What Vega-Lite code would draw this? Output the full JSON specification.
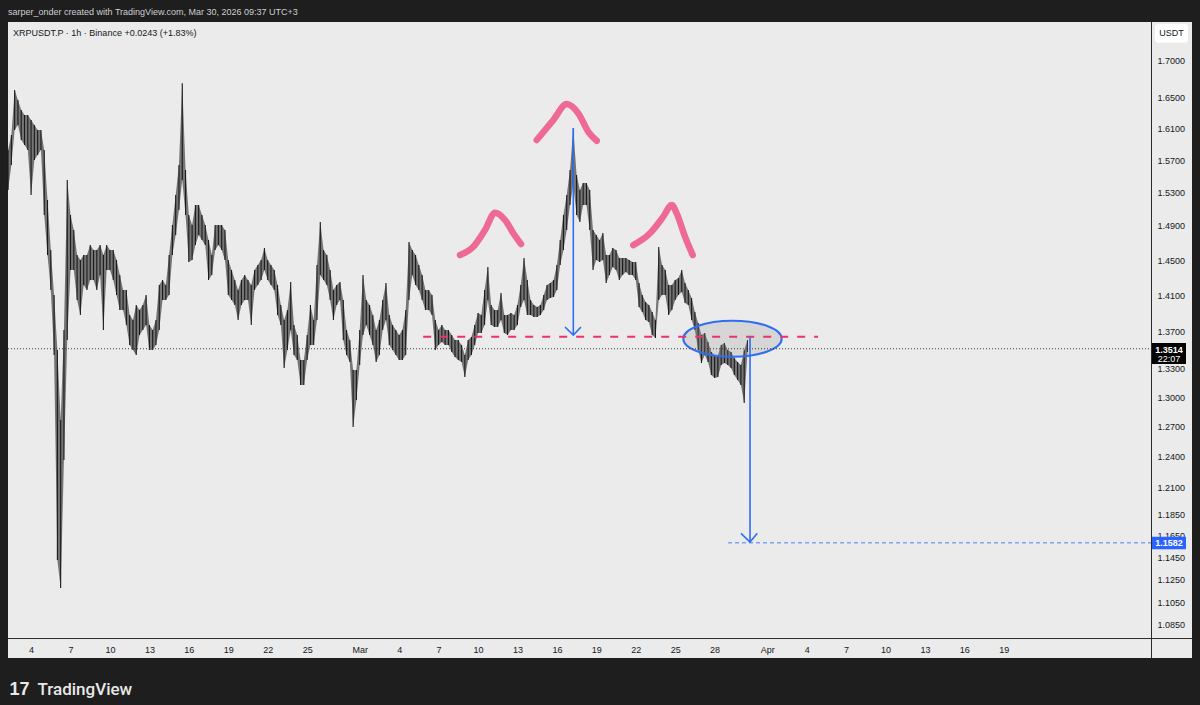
{
  "$schema": "https://vega.github.io/schema/vega-lite/v6.json",
  "width": 1184,
  "height": 636,
  "autosize": {"type": "none"},
  "padding": {"left": 8, "top": 22, "right": 8, "bottom": 47},
  "background": "#1e1e1e",
  "view": {"fill": "#ebebeb", "stroke": null},
  "config": {"font": "Liberation Sans", "axis": {"grid": false, "domain": false, "ticks": false}},
  "title": {
    "text": "sarper_onder created with TradingView.com, Mar 30, 2026 09:37 UTC+3",
    "anchor": "start", "frame": "group", "orient": "top", "offset": 5,
    "font": "Liberation Sans", "fontSize": 9, "fontWeight": "normal", "color": "#cfcfcf"
  },
  "datasets": {
    "bars": [
      {"t":"2026-02-02T06:00","h":1.5827,"l":1.5331},{"t":"2026-02-02T12:00","h":1.6016,"l":1.5639},{"t":"2026-02-02T18:00","h":1.6600,"l":1.6080},
      {"t":"2026-02-03T00:00","h":1.6468,"l":1.6144},{"t":"2026-02-03T06:00","h":1.6338,"l":1.5953},{"t":"2026-02-03T12:00","h":1.6273,"l":1.5890},{"t":"2026-02-03T18:00","h":1.6273,"l":1.5827},
      {"t":"2026-02-04T00:00","h":1.6208,"l":1.5270},{"t":"2026-02-04T06:00","h":1.6144,"l":1.5701},{"t":"2026-02-04T12:00","h":1.6080,"l":1.5764},{"t":"2026-02-04T18:00","h":1.6080,"l":1.5827},
      {"t":"2026-02-05T00:00","h":1.5827,"l":1.5030},{"t":"2026-02-05T06:00","h":1.5210,"l":1.4559},{"t":"2026-02-05T12:00","h":1.4617,"l":1.4160},{"t":"2026-02-05T18:00","h":1.4104,"l":1.3447},
      {"t":"2026-02-06T00:00","h":1.3500,"l":1.1425},{"t":"2026-02-06T06:00","h":1.2770,"l":1.1174},{"t":"2026-02-06T12:00","h":1.3717,"l":1.2370},{"t":"2026-02-06T18:00","h":1.5454,"l":1.3608},
      {"t":"2026-02-07T00:00","h":1.5030,"l":1.4387},{"t":"2026-02-07T06:00","h":1.4851,"l":1.4387},{"t":"2026-02-07T12:00","h":1.4559,"l":1.4048},{"t":"2026-02-07T18:00","h":1.4502,"l":1.3881},
      {"t":"2026-02-08T00:00","h":1.4559,"l":1.4216},{"t":"2026-02-08T06:00","h":1.4559,"l":1.4160},{"t":"2026-02-08T12:00","h":1.4675,"l":1.4273},{"t":"2026-02-08T18:00","h":1.4617,"l":1.4273},
      {"t":"2026-02-09T00:00","h":1.4617,"l":1.4160},{"t":"2026-02-09T06:00","h":1.4675,"l":1.4330},{"t":"2026-02-09T12:00","h":1.4559,"l":1.3717},{"t":"2026-02-09T18:00","h":1.4675,"l":1.4387},
      {"t":"2026-02-10T00:00","h":1.4617,"l":1.4387},{"t":"2026-02-10T06:00","h":1.4617,"l":1.4273},{"t":"2026-02-10T12:00","h":1.4502,"l":1.4104},{"t":"2026-02-10T18:00","h":1.4330,"l":1.3937},
      {"t":"2026-02-11T00:00","h":1.4160,"l":1.3937},{"t":"2026-02-11T06:00","h":1.4160,"l":1.3771},{"t":"2026-02-11T12:00","h":1.3881,"l":1.3554},{"t":"2026-02-11T18:00","h":1.3826,"l":1.3500},
      {"t":"2026-02-12T00:00","h":1.3992,"l":1.3447},{"t":"2026-02-12T06:00","h":1.3937,"l":1.3662},{"t":"2026-02-12T12:00","h":1.3992,"l":1.3717},{"t":"2026-02-12T18:00","h":1.4104,"l":1.3771},
      {"t":"2026-02-13T00:00","h":1.3771,"l":1.3500},{"t":"2026-02-13T06:00","h":1.3717,"l":1.3500},{"t":"2026-02-13T12:00","h":1.3826,"l":1.3554},{"t":"2026-02-13T18:00","h":1.4216,"l":1.3717},
      {"t":"2026-02-14T00:00","h":1.4273,"l":1.4048},{"t":"2026-02-14T06:00","h":1.4216,"l":1.4048},{"t":"2026-02-14T12:00","h":1.4559,"l":1.4104},{"t":"2026-02-14T18:00","h":1.4911,"l":1.4559},
      {"t":"2026-02-15T00:00","h":1.5270,"l":1.4793},{"t":"2026-02-15T06:00","h":1.5639,"l":1.5089},{"t":"2026-02-15T12:00","h":1.6690,"l":1.5454},{"t":"2026-02-15T18:00","h":1.5577,"l":1.5030},
      {"t":"2026-02-16T00:00","h":1.5030,"l":1.4479},{"t":"2026-02-16T06:00","h":1.4911,"l":1.4502},{"t":"2026-02-16T12:00","h":1.5150,"l":1.4675},{"t":"2026-02-16T18:00","h":1.5150,"l":1.4793},
      {"t":"2026-02-17T00:00","h":1.5030,"l":1.4734},{"t":"2026-02-17T06:00","h":1.4911,"l":1.4675},{"t":"2026-02-17T12:00","h":1.4734,"l":1.4273},{"t":"2026-02-17T18:00","h":1.4559,"l":1.4330},
      {"t":"2026-02-18T00:00","h":1.4911,"l":1.4617},{"t":"2026-02-18T06:00","h":1.4911,"l":1.4675},{"t":"2026-02-18T12:00","h":1.4911,"l":1.4617},{"t":"2026-02-18T18:00","h":1.4851,"l":1.4502},
      {"t":"2026-02-19T00:00","h":1.4502,"l":1.4104},{"t":"2026-02-19T06:00","h":1.4387,"l":1.4048},{"t":"2026-02-19T12:00","h":1.4273,"l":1.3992},{"t":"2026-02-19T18:00","h":1.4160,"l":1.3826},
      {"t":"2026-02-20T00:00","h":1.4273,"l":1.3992},{"t":"2026-02-20T06:00","h":1.4330,"l":1.4048},{"t":"2026-02-20T12:00","h":1.4273,"l":1.4048},{"t":"2026-02-20T18:00","h":1.4216,"l":1.3771},
      {"t":"2026-02-21T00:00","h":1.4387,"l":1.4160},{"t":"2026-02-21T06:00","h":1.4444,"l":1.4216},{"t":"2026-02-21T12:00","h":1.4502,"l":1.4273},{"t":"2026-02-21T18:00","h":1.4640,"l":1.4387},
      {"t":"2026-02-22T00:00","h":1.4502,"l":1.4273},{"t":"2026-02-22T06:00","h":1.4444,"l":1.4216},{"t":"2026-02-22T12:00","h":1.4387,"l":1.4160},{"t":"2026-02-22T18:00","h":1.4216,"l":1.3881},
      {"t":"2026-02-23T00:00","h":1.3992,"l":1.3771},{"t":"2026-02-23T06:00","h":1.3826,"l":1.3310},{"t":"2026-02-23T12:00","h":1.3937,"l":1.3500},{"t":"2026-02-23T18:00","h":1.4250,"l":1.3717},
      {"t":"2026-02-24T00:00","h":1.3771,"l":1.3447},{"t":"2026-02-24T06:00","h":1.3662,"l":1.3394},{"t":"2026-02-24T12:00","h":1.3394,"l":1.3130},{"t":"2026-02-24T18:00","h":1.3394,"l":1.3130},
      {"t":"2026-02-25T00:00","h":1.3662,"l":1.3394},{"t":"2026-02-25T06:00","h":1.3992,"l":1.3554},{"t":"2026-02-25T12:00","h":1.3826,"l":1.3554},{"t":"2026-02-25T18:00","h":1.4444,"l":1.3826},
      {"t":"2026-02-26T00:00","h":1.4946,"l":1.4330},{"t":"2026-02-26T06:00","h":1.4617,"l":1.4273},{"t":"2026-02-26T12:00","h":1.4559,"l":1.4216},{"t":"2026-02-26T18:00","h":1.4387,"l":1.4048},
      {"t":"2026-02-27T00:00","h":1.4160,"l":1.3826},{"t":"2026-02-27T06:00","h":1.4216,"l":1.3992},{"t":"2026-02-27T12:00","h":1.4250,"l":1.4048},{"t":"2026-02-27T18:00","h":1.4048,"l":1.3608},
      {"t":"2026-02-28T00:00","h":1.3717,"l":1.3447},{"t":"2026-02-28T06:00","h":1.3608,"l":1.3373},{"t":"2026-02-28T12:00","h":1.3288,"l":1.2700},{"t":"2026-02-28T18:00","h":1.3288,"l":1.2974},
      {"t":"2026-03-01T00:00","h":1.3717,"l":1.3340},{"t":"2026-03-01T06:00","h":1.4330,"l":1.3662},{"t":"2026-03-01T12:00","h":1.4048,"l":1.3771},{"t":"2026-03-01T18:00","h":1.3992,"l":1.3662},
      {"t":"2026-03-02T00:00","h":1.3881,"l":1.3554},{"t":"2026-03-02T06:00","h":1.3717,"l":1.3373},{"t":"2026-03-02T12:00","h":1.3826,"l":1.3447},{"t":"2026-03-02T18:00","h":1.4048,"l":1.3717},
      {"t":"2026-03-03T00:00","h":1.4239,"l":1.3826},{"t":"2026-03-03T06:00","h":1.3881,"l":1.3554},{"t":"2026-03-03T12:00","h":1.3771,"l":1.3500},{"t":"2026-03-03T18:00","h":1.3717,"l":1.3447},
      {"t":"2026-03-04T00:00","h":1.3662,"l":1.3394},{"t":"2026-03-04T06:00","h":1.3717,"l":1.3394},{"t":"2026-03-04T12:00","h":1.3937,"l":1.3447},{"t":"2026-03-04T18:00","h":1.4710,"l":1.4048},
      {"t":"2026-03-05T00:00","h":1.4617,"l":1.4330},{"t":"2026-03-05T06:00","h":1.4559,"l":1.4216},{"t":"2026-03-05T12:00","h":1.4444,"l":1.4160},{"t":"2026-03-05T18:00","h":1.4330,"l":1.4048},
      {"t":"2026-03-06T00:00","h":1.4160,"l":1.3937},{"t":"2026-03-06T06:00","h":1.4160,"l":1.3937},{"t":"2026-03-06T12:00","h":1.4104,"l":1.3881},{"t":"2026-03-06T18:00","h":1.3826,"l":1.3500},
      {"t":"2026-03-07T00:00","h":1.3717,"l":1.3554},{"t":"2026-03-07T06:00","h":1.3771,"l":1.3587},{"t":"2026-03-07T12:00","h":1.3717,"l":1.3554},{"t":"2026-03-07T18:00","h":1.3717,"l":1.3554},
      {"t":"2026-03-08T00:00","h":1.3662,"l":1.3479},{"t":"2026-03-08T06:00","h":1.3608,"l":1.3426},{"t":"2026-03-08T12:00","h":1.3608,"l":1.3394},{"t":"2026-03-08T18:00","h":1.3554,"l":1.3373},
      {"t":"2026-03-09T00:00","h":1.3447,"l":1.3214},{"t":"2026-03-09T06:00","h":1.3608,"l":1.3394},{"t":"2026-03-09T12:00","h":1.3641,"l":1.3447},{"t":"2026-03-09T18:00","h":1.3771,"l":1.3554},
      {"t":"2026-03-10T00:00","h":1.3903,"l":1.3684},{"t":"2026-03-10T06:00","h":1.3881,"l":1.3684},{"t":"2026-03-10T12:00","h":1.4160,"l":1.3771},{"t":"2026-03-10T18:00","h":1.4421,"l":1.4048},
      {"t":"2026-03-11T00:00","h":1.3992,"l":1.3771},{"t":"2026-03-11T06:00","h":1.3937,"l":1.3749},{"t":"2026-03-11T12:00","h":1.3937,"l":1.3749},{"t":"2026-03-11T18:00","h":1.4126,"l":1.3826},
      {"t":"2026-03-12T00:00","h":1.3881,"l":1.3684},{"t":"2026-03-12T06:00","h":1.3881,"l":1.3662},{"t":"2026-03-12T12:00","h":1.3903,"l":1.3717},{"t":"2026-03-12T18:00","h":1.3881,"l":1.3717},
      {"t":"2026-03-13T00:00","h":1.3992,"l":1.3771},{"t":"2026-03-13T06:00","h":1.4216,"l":1.3970},{"t":"2026-03-13T12:00","h":1.4525,"l":1.4048},{"t":"2026-03-13T18:00","h":1.4273,"l":1.3881},
      {"t":"2026-03-14T00:00","h":1.4048,"l":1.3881},{"t":"2026-03-14T06:00","h":1.3992,"l":1.3859},{"t":"2026-03-14T12:00","h":1.3970,"l":1.3859},{"t":"2026-03-14T18:00","h":1.3992,"l":1.3881},
      {"t":"2026-03-15T00:00","h":1.4104,"l":1.3937},{"t":"2026-03-15T06:00","h":1.4216,"l":1.4048},{"t":"2026-03-15T12:00","h":1.4239,"l":1.4070},{"t":"2026-03-15T18:00","h":1.4273,"l":1.4081},
      {"t":"2026-03-16T00:00","h":1.4444,"l":1.4160},{"t":"2026-03-16T06:00","h":1.4734,"l":1.4444},{"t":"2026-03-16T12:00","h":1.5030,"l":1.4617},{"t":"2026-03-16T18:00","h":1.5270,"l":1.4851},
      {"t":"2026-03-17T00:00","h":1.5577,"l":1.5150},{"t":"2026-03-17T06:00","h":1.6100,"l":1.5392},{"t":"2026-03-17T12:00","h":1.5515,"l":1.5030},{"t":"2026-03-17T18:00","h":1.5331,"l":1.4946},
      {"t":"2026-03-18T00:00","h":1.5416,"l":1.5150},{"t":"2026-03-18T06:00","h":1.5416,"l":1.5150},{"t":"2026-03-18T12:00","h":1.5331,"l":1.4851},{"t":"2026-03-18T18:00","h":1.4851,"l":1.4387},
      {"t":"2026-03-19T00:00","h":1.4793,"l":1.4502},{"t":"2026-03-19T06:00","h":1.4734,"l":1.4479},{"t":"2026-03-19T12:00","h":1.4816,"l":1.4502},{"t":"2026-03-19T18:00","h":1.4559,"l":1.4239},
      {"t":"2026-03-20T00:00","h":1.4559,"l":1.4330},{"t":"2026-03-20T06:00","h":1.4640,"l":1.4421},{"t":"2026-03-20T12:00","h":1.4617,"l":1.4387},{"t":"2026-03-20T18:00","h":1.4525,"l":1.4273},
      {"t":"2026-03-21T00:00","h":1.4525,"l":1.4330},{"t":"2026-03-21T06:00","h":1.4525,"l":1.4364},{"t":"2026-03-21T12:00","h":1.4502,"l":1.4330},{"t":"2026-03-21T18:00","h":1.4479,"l":1.4330},
      {"t":"2026-03-22T00:00","h":1.4479,"l":1.4273},{"t":"2026-03-22T06:00","h":1.4239,"l":1.3970},{"t":"2026-03-22T12:00","h":1.4104,"l":1.3915},{"t":"2026-03-22T18:00","h":1.4026,"l":1.3826},
      {"t":"2026-03-23T00:00","h":1.3992,"l":1.3804},{"t":"2026-03-23T06:00","h":1.3915,"l":1.3662},{"t":"2026-03-23T12:00","h":1.3826,"l":1.3630},{"t":"2026-03-23T18:00","h":1.4652,"l":1.4048},
      {"t":"2026-03-24T00:00","h":1.4444,"l":1.4104},{"t":"2026-03-24T06:00","h":1.4387,"l":1.4104},{"t":"2026-03-24T12:00","h":1.4216,"l":1.3881},{"t":"2026-03-24T18:00","h":1.4216,"l":1.3937},
      {"t":"2026-03-25T00:00","h":1.4273,"l":1.4048},{"t":"2026-03-25T06:00","h":1.4296,"l":1.4104},{"t":"2026-03-25T12:00","h":1.4387,"l":1.4137},{"t":"2026-03-25T18:00","h":1.4239,"l":1.4014},
      {"t":"2026-03-26T00:00","h":1.4160,"l":1.3992},{"t":"2026-03-26T06:00","h":1.4070,"l":1.3826},{"t":"2026-03-26T12:00","h":1.3915,"l":1.3717},{"t":"2026-03-26T18:00","h":1.3793,"l":1.3500},
      {"t":"2026-03-27T00:00","h":1.3662,"l":1.3362},{"t":"2026-03-27T06:00","h":1.3684,"l":1.3447},{"t":"2026-03-27T12:00","h":1.3587,"l":1.3373},{"t":"2026-03-27T18:00","h":1.3479,"l":1.3235},
      {"t":"2026-03-28T00:00","h":1.3447,"l":1.3204},{"t":"2026-03-28T06:00","h":1.3447,"l":1.3214},{"t":"2026-03-28T12:00","h":1.3554,"l":1.3340},{"t":"2026-03-28T18:00","h":1.3576,"l":1.3362},
      {"t":"2026-03-29T00:00","h":1.3500,"l":1.3340},{"t":"2026-03-29T06:00","h":1.3479,"l":1.3308},{"t":"2026-03-29T12:00","h":1.3415,"l":1.3235},{"t":"2026-03-29T18:00","h":1.3373,"l":1.3182},
      {"t":"2026-03-30T00:00","h":1.3340,"l":1.3130},{"t":"2026-03-30T06:00","h":1.3500,"l":1.2943},{"t":"2026-03-30T12:00","h":1.3608,"l":1.3479}
    ]
  },
  "layer": [
    {
      "data": {"name": "bars", "format": {"parse": {"t": "date"}}},
      "mark": {"type": "area", "color": "#262626", "opacity": 0.6, "interpolate": "linear"},
      "encoding": {
        "x": {
          "field": "t", "type": "temporal",
          "scale": {"domain": [{"year": 2026, "month": 2, "date": 2, "hours": 5, "minutes": 51}, {"year": 2026, "month": 5, "date": 3, "hours": 7, "minutes": 37}]},
          "axis": {
            "orient": "bottom", "offset": -20,
            "values": [
              {"year":2026,"month":2,"date":4},{"year":2026,"month":2,"date":7},{"year":2026,"month":2,"date":10},{"year":2026,"month":2,"date":13},
              {"year":2026,"month":2,"date":16},{"year":2026,"month":2,"date":19},{"year":2026,"month":2,"date":22},{"year":2026,"month":2,"date":25},
              {"year":2026,"month":3,"date":1},{"year":2026,"month":3,"date":4},{"year":2026,"month":3,"date":7},{"year":2026,"month":3,"date":10},
              {"year":2026,"month":3,"date":13},{"year":2026,"month":3,"date":16},{"year":2026,"month":3,"date":19},{"year":2026,"month":3,"date":22},
              {"year":2026,"month":3,"date":25},{"year":2026,"month":3,"date":28},{"year":2026,"month":4,"date":1},{"year":2026,"month":4,"date":4},
              {"year":2026,"month":4,"date":7},{"year":2026,"month":4,"date":10},{"year":2026,"month":4,"date":13},{"year":2026,"month":4,"date":16},
              {"year":2026,"month":4,"date":19}
            ],
            "labelExpr": "date(datum.value) == 1 ? timeFormat(datum.value, '%b') : timeFormat(datum.value, '%-d')",
            "domain": false, "ticks": false, "grid": false,
            "labelPadding": 11, "labelBaseline": "middle", "labelFontSize": 9, "labelColor": "#131722",
            "labelFont": "Liberation Sans", "labelOverlap": false, "labelFlush": false,
            "title": "TradingView", "titleX": 29, "titleY": 56, "titleAlign": "left", "titleAnchor": "start",
            "titleBaseline": "alphabetic", "titleFontSize": 17, "titleFontWeight": 500, "titleColor": "#e8e8e8",
            "titleFont": "Roboto", "titleAngle": 0
          }
        },
        "y": {
          "field": "h", "type": "quantitative",
          "scale": {"type": "log", "domain": [1.05691, 1.75218], "nice": false, "zero": false},
          "axis": {
            "orient": "right", "offset": -35,
            "values": [1.7, 1.65, 1.61, 1.57, 1.53, 1.49, 1.45, 1.41, 1.37, 1.33, 1.3, 1.27, 1.24, 1.21, 1.185, 1.165, 1.145, 1.125, 1.105, 1.085],
            "format": ".4f", "domain": false, "ticks": false, "grid": false,
            "labelPadding": 0, "labelAlign": "left", "labelBaseline": "middle", "labelFontSize": 9,
            "labelColor": "#131722", "labelFont": "Liberation Sans", "labelOverlap": false, "labelFlush": false,
            "title": "17", "titleX": -1148, "titleY": 672, "titleAngle": 0, "titleAlign": "left", "titleAnchor": "start",
            "titleBaseline": "alphabetic", "titleFontSize": 18, "titleFontWeight": "bold", "titleColor": "#e8e8e8",
            "titleFont": "Liberation Sans"
          }
        },
        "y2": {"field": "l"}
      }
    },
    {
      "data": {"name": "bars", "format": {"parse": {"t": "date"}}},
      "mark": {"type": "rule", "strokeWidth": 1.1, "color": "#1a1a1a"},
      "encoding": {
        "x": {"field": "t", "type": "temporal"},
        "y": {"field": "h", "type": "quantitative"},
        "y2": {"field": "l"}
      }
    },
    {
      "data": {"values": [{"t": "2026-03-29T08:38", "p": 1.3622}], "format": {"parse": {"t": "date"}}},
      "mark": {"type": "point", "filled": true, "color": "#8c8c8c", "opacity": 0.22, "size": 9683, "strokeWidth": 0,
               "shape": "M -1 0 C -1 -0.2027 -0.5523 -0.367 0 -0.367 C 0.5523 -0.367 1 -0.2027 1 0 C 1 0.2027 0.5523 0.367 0 0.367 C -0.5523 0.367 -1 0.2027 -1 0 Z"},
      "encoding": {
        "x": {"field": "t", "type": "temporal"},
        "y": {"field": "p", "type": "quantitative"}
      }
    },
    {
      "data": {"values": [{"t": "2026-03-29T08:38", "p": 1.3622}], "format": {"parse": {"t": "date"}}},
      "mark": {"type": "point", "filled": false, "color": "#2f6ef0", "opacity": 1, "size": 9683, "strokeWidth": 2,
               "shape": "M -1 0 C -1 -0.2027 -0.5523 -0.367 0 -0.367 C 0.5523 -0.367 1 -0.2027 1 0 C 1 0.2027 0.5523 0.367 0 0.367 C -0.5523 0.367 -1 0.2027 -1 0 Z"},
      "encoding": {
        "x": {"field": "t", "type": "temporal"},
        "y": {"field": "p", "type": "quantitative"}
      }
    },
    {
      "data": {"values": [{"t1": "2026-02-02T05:51", "t2": "2026-04-30T05:00", "p": 1.3514}], "format": {"parse": {"t1": "date", "t2": "date"}}},
      "mark": {"type": "rule", "color": "#3a3a3a", "strokeWidth": 1, "strokeDash": [1, 2]},
      "encoding": {
        "x": {"field": "t1", "type": "temporal"},
        "x2": {"field": "t2"},
        "y": {"field": "p", "type": "quantitative"}
      }
    },
    {
      "data": {"values": [{"t1": "2026-03-05T19:55", "t2": "2026-04-04T20:50", "p": 1.3644}], "format": {"parse": {"t1": "date", "t2": "date"}}},
      "mark": {"type": "rule", "color": "#e8336b", "strokeWidth": 2, "strokeDash": [8, 9]},
      "encoding": {
        "x": {"field": "t1", "type": "temporal"},
        "x2": {"field": "t2"},
        "y": {"field": "p", "type": "quantitative"}
      }
    },
    {
      "data": {"values": [{"t1": "2026-03-29T00:30", "t2": "2026-04-30T05:00", "p": 1.1582}], "format": {"parse": {"t1": "date", "t2": "date"}}},
      "mark": {"type": "rule", "color": "#7ea3f5", "strokeWidth": 1.5, "strokeDash": [4, 3]},
      "encoding": {
        "x": {"field": "t1", "type": "temporal"},
        "x2": {"field": "t2"},
        "y": {"field": "p", "type": "quantitative"}
      }
    },
    {
      "data": {"values": [
        {"g": "a1", "i": 0, "t": "2026-03-17T06:00", "p": 1.6106},
        {"g": "a1", "i": 1, "t": "2026-03-17T06:00", "p": 1.3662},
        {"g": "a1h", "i": 0, "t": "2026-03-16T14:50", "p": 1.3750},
        {"g": "a1h", "i": 1, "t": "2026-03-17T06:00", "p": 1.3662},
        {"g": "a1h", "i": 2, "t": "2026-03-17T20:02", "p": 1.3750},
        {"g": "a2", "i": 0, "t": "2026-03-30T16:38", "p": 1.3640},
        {"g": "a2", "i": 1, "t": "2026-03-30T16:38", "p": 1.1590},
        {"g": "a2h", "i": 0, "t": "2026-03-30T00:10", "p": 1.1670},
        {"g": "a2h", "i": 1, "t": "2026-03-30T16:38", "p": 1.1590},
        {"g": "a2h", "i": 2, "t": "2026-03-31T05:56", "p": 1.1670}
      ], "format": {"parse": {"t": "date"}}},
      "mark": {"type": "line", "color": "#2f6ef0", "strokeWidth": 1.6},
      "encoding": {
        "x": {"field": "t", "type": "temporal"},
        "y": {"field": "p", "type": "quantitative"},
        "detail": {"field": "g"},
        "order": {"field": "i", "type": "quantitative"}
      }
    },
    {
      "data": {"values": [
        {"g": "h1", "i": 0, "t": "2026-03-08T15:07", "p": 1.4559},
        {"g": "h1", "i": 1, "t": "2026-03-09T15:24", "p": 1.4655},
        {"g": "h1", "i": 2, "t": "2026-03-10T12:46", "p": 1.4851},
        {"g": "h1", "i": 3, "t": "2026-03-11T07:02", "p": 1.5057},
        {"g": "h1", "i": 4, "t": "2026-03-12T01:17", "p": 1.4970},
        {"g": "h1", "i": 5, "t": "2026-03-12T16:26", "p": 1.4813},
        {"g": "h1", "i": 6, "t": "2026-03-13T06:30", "p": 1.4687},
        {"g": "h2", "i": 0, "t": "2026-03-14T11:10", "p": 1.5953},
        {"g": "h2", "i": 1, "t": "2026-03-15T17:28", "p": 1.6208},
        {"g": "h2", "i": 2, "t": "2026-03-16T17:56", "p": 1.6416},
        {"g": "h2", "i": 3, "t": "2026-03-17T15:07", "p": 1.6295},
        {"g": "h2", "i": 4, "t": "2026-03-18T09:23", "p": 1.6058},
        {"g": "h2", "i": 5, "t": "2026-03-19T00:43", "p": 1.5944},
        {"g": "h3", "i": 0, "t": "2026-03-21T19:32", "p": 1.4675},
        {"g": "h3", "i": 1, "t": "2026-03-23T02:02", "p": 1.4813},
        {"g": "h3", "i": 2, "t": "2026-03-24T02:19", "p": 1.5010},
        {"g": "h3", "i": 3, "t": "2026-03-24T17:38", "p": 1.5150},
        {"g": "h3", "i": 4, "t": "2026-03-25T02:46", "p": 1.5050},
        {"g": "h3", "i": 5, "t": "2026-03-25T17:56", "p": 1.4773},
        {"g": "h3", "i": 6, "t": "2026-03-26T08:00", "p": 1.4559}
      ], "format": {"parse": {"t": "date"}}},
      "mark": {"type": "line", "color": "#ee6a94", "strokeWidth": 6.5, "strokeCap": "round", "strokeJoin": "round", "interpolate": "monotone"},
      "encoding": {
        "x": {"field": "t", "type": "temporal"},
        "y": {"field": "p", "type": "quantitative"},
        "detail": {"field": "g"},
        "order": {"field": "i", "type": "quantitative"}
      }
    },
    {
      "data": {"values": [{"t": "2026-04-30T05:40", "p": 1.75218, "p2": 1.05691}], "format": {"parse": {"t": "date"}}},
      "mark": {"type": "rule", "color": "#2a2a2a", "strokeWidth": 1},
      "encoding": {
        "x": {"field": "t", "type": "temporal"},
        "y": {"field": "p", "type": "quantitative"},
        "y2": {"field": "p2"}
      }
    },
    {
      "data": {"values": [{"t": "2026-02-02T05:51", "t2": "2026-05-03T07:37", "p": 1.0734}], "format": {"parse": {"t": "date", "t2": "date"}}},
      "mark": {"type": "rule", "color": "#2a2a2a", "strokeWidth": 1},
      "encoding": {
        "x": {"field": "t", "type": "temporal"},
        "x2": {"field": "t2"},
        "y": {"field": "p", "type": "quantitative"}
      }
    },
    {
      "data": {"values": [{"t1": "2026-04-30T06:34", "t2": "2026-05-02T20:38", "p1": 1.3576, "p2": 1.3351}], "format": {"parse": {"t1": "date", "t2": "date"}}},
      "mark": {"type": "rect", "color": "#000000"},
      "encoding": {
        "x": {"field": "t1", "type": "temporal"}, "x2": {"field": "t2"},
        "y": {"field": "p1", "type": "quantitative"}, "y2": {"field": "p2"}
      }
    },
    {
      "data": {"values": [{"t1": "2026-04-30T06:34", "t2": "2026-05-02T20:38", "p1": 1.1639, "p2": 1.1523}], "format": {"parse": {"t1": "date", "t2": "date"}}},
      "mark": {"type": "rect", "color": "#2962ff"},
      "encoding": {
        "x": {"field": "t1", "type": "temporal"}, "x2": {"field": "t2"},
        "y": {"field": "p1", "type": "quantitative"}, "y2": {"field": "p2"}
      }
    },
    {
      "data": {"values": [{"t1": "2026-04-30T12:03", "t2": "2026-05-03T00:19", "p1": 1.7494, "p2": 1.7236}], "format": {"parse": {"t1": "date", "t2": "date"}}},
      "mark": {"type": "rect", "color": "#ffffff", "cornerRadius": 3},
      "encoding": {
        "x": {"field": "t1", "type": "temporal"}, "x2": {"field": "t2"},
        "y": {"field": "p1", "type": "quantitative"}, "y2": {"field": "p2"}
      }
    },
    {
      "data": {"values": [
        {"t": "2026-05-01T13:40", "p": 1.3500, "s": "1.3514"},
        {"t": "2026-05-01T13:40", "p": 1.1581, "s": "1.1582"}
      ], "format": {"parse": {"t": "date"}}},
      "mark": {"type": "text", "color": "#ffffff", "fontSize": 9, "fontWeight": "bold", "align": "center", "baseline": "middle", "font": "Liberation Sans"},
      "encoding": {
        "x": {"field": "t", "type": "temporal"},
        "y": {"field": "p", "type": "quantitative"},
        "text": {"field": "s"}
      }
    },
    {
      "data": {"values": [{"t": "2026-05-01T13:40", "p": 1.3404, "s": "22:07"}], "format": {"parse": {"t": "date"}}},
      "mark": {"type": "text", "color": "#ffffff", "fontSize": 9, "align": "center", "baseline": "middle", "font": "Liberation Sans"},
      "encoding": {
        "x": {"field": "t", "type": "temporal"},
        "y": {"field": "p", "type": "quantitative"},
        "text": {"field": "s"}
      }
    },
    {
      "data": {"values": [{"t": "2026-05-01T18:10", "p": 1.7364, "s": "USDT"}], "format": {"parse": {"t": "date"}}},
      "mark": {"type": "text", "color": "#131722", "fontSize": 9, "align": "center", "baseline": "middle", "font": "Liberation Sans"},
      "encoding": {
        "x": {"field": "t", "type": "temporal"},
        "y": {"field": "p", "type": "quantitative"},
        "text": {"field": "s"}
      }
    },
    {
      "data": {"values": [{"t": "2026-02-02T15:00", "p": 1.7376, "s": "XRPUSDT.P · 1h · Binance  +0.0243 (+1.83%)"}], "format": {"parse": {"t": "date"}}},
      "mark": {"type": "text", "color": "#131722", "fontSize": 9, "align": "left", "baseline": "middle", "font": "Liberation Sans"},
      "encoding": {
        "x": {"field": "t", "type": "temporal"},
        "y": {"field": "p", "type": "quantitative"},
        "text": {"field": "s"}
      }
    }
  ]
}
